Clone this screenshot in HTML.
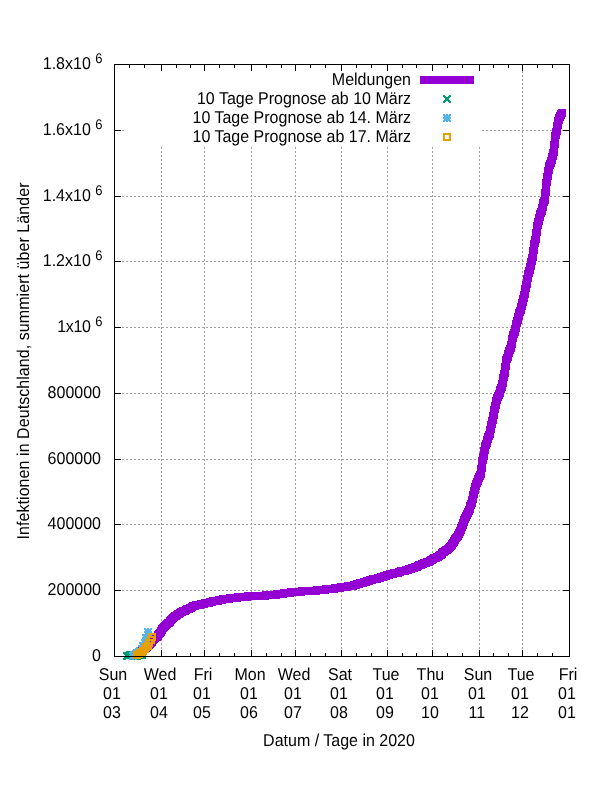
<!DOCTYPE html>
<html lang="de"><head><meta charset="utf-8"><title>Infektionen in Deutschland</title>
<style>html,body{margin:0;padding:0;background:#fff}svg{display:block}</style></head>
<body><svg width="600" height="800" viewBox="0 0 600 800" shape-rendering="crispEdges">
<rect width="600" height="800" fill="#fff"/>
<path d="M522 67h1v2h-1zM522 71h1v2h-1zM522 75h1v2h-1zM522 79h1v2h-1zM522 83h1v2h-1zM522 87h1v2h-1zM522 91h1v2h-1zM522 95h1v2h-1zM522 99h1v2h-1zM522 103h1v2h-1zM522 107h1v2h-1zM522 111h1v2h-1zM522 115h1v2h-1zM522 119h1v2h-1zM522 123h1v2h-1zM522 127h1v2h-1zM482 130h2v1h-2zM546 130h2v1h-2zM518 130h2v1h-2zM514 130h2v1h-2zM510 130h2v1h-2zM542 130h2v1h-2zM538 130h2v1h-2zM506 130h2v1h-2zM502 130h2v1h-2zM566 130h2v1h-2zM534 130h2v1h-2zM498 130h2v1h-2zM562 130h2v1h-2zM122 130h2v1h-2zM115 130h1v1h-1zM530 130h2v1h-2zM526 130h2v1h-2zM494 130h2v1h-2zM558 130h2v1h-2zM118 130h2v1h-2zM554 130h2v1h-2zM522 130h2v1h-2zM490 130h2v1h-2zM486 130h2v1h-2zM550 130h2v1h-2zM522 131h1v2h-1zM522 135h1v2h-1zM522 139h1v2h-1zM522 143h1v2h-1zM341 147h1v2h-1zM295 147h1v2h-1zM479 147h1v2h-1zM522 147h1v2h-1zM204 147h1v2h-1zM251 147h1v2h-1zM387 147h1v2h-1zM432 147h1v2h-1zM161 147h1v2h-1zM341 151h1v2h-1zM295 151h1v2h-1zM479 151h1v2h-1zM522 151h1v2h-1zM204 151h1v2h-1zM251 151h1v2h-1zM387 151h1v2h-1zM432 151h1v2h-1zM161 151h1v2h-1zM341 155h1v2h-1zM295 155h1v2h-1zM479 155h1v2h-1zM522 155h1v2h-1zM204 155h1v2h-1zM251 155h1v2h-1zM387 155h1v2h-1zM432 155h1v2h-1zM161 155h1v2h-1zM341 159h1v2h-1zM295 159h1v2h-1zM479 159h1v2h-1zM522 159h1v2h-1zM204 159h1v2h-1zM251 159h1v2h-1zM387 159h1v2h-1zM432 159h1v2h-1zM161 159h1v2h-1zM341 163h1v2h-1zM295 163h1v2h-1zM479 163h1v2h-1zM522 163h1v2h-1zM204 163h1v2h-1zM251 163h1v2h-1zM387 163h1v2h-1zM432 163h1v2h-1zM161 163h1v2h-1zM341 167h1v2h-1zM295 167h1v2h-1zM479 167h1v2h-1zM522 167h1v2h-1zM204 167h1v2h-1zM251 167h1v2h-1zM387 167h1v2h-1zM432 167h1v2h-1zM161 167h1v2h-1zM341 171h1v2h-1zM295 171h1v2h-1zM479 171h1v2h-1zM522 171h1v2h-1zM204 171h1v2h-1zM251 171h1v2h-1zM387 171h1v2h-1zM432 171h1v2h-1zM161 171h1v2h-1zM341 175h1v2h-1zM295 175h1v2h-1zM479 175h1v2h-1zM522 175h1v2h-1zM204 175h1v2h-1zM251 175h1v2h-1zM387 175h1v2h-1zM432 175h1v2h-1zM161 175h1v2h-1zM341 179h1v2h-1zM295 179h1v2h-1zM479 179h1v2h-1zM522 179h1v2h-1zM204 179h1v2h-1zM251 179h1v2h-1zM387 179h1v2h-1zM432 179h1v2h-1zM161 179h1v2h-1zM341 183h1v2h-1zM295 183h1v2h-1zM479 183h1v2h-1zM522 183h1v2h-1zM204 183h1v2h-1zM251 183h1v2h-1zM387 183h1v2h-1zM432 183h1v2h-1zM161 183h1v2h-1zM341 187h1v2h-1zM295 187h1v2h-1zM479 187h1v2h-1zM522 187h1v2h-1zM204 187h1v2h-1zM251 187h1v2h-1zM387 187h1v2h-1zM432 187h1v2h-1zM161 187h1v2h-1zM341 191h1v2h-1zM295 191h1v2h-1zM479 191h1v2h-1zM522 191h1v2h-1zM204 191h1v2h-1zM251 191h1v2h-1zM387 191h1v2h-1zM432 191h1v2h-1zM161 191h1v2h-1zM341 195h1v1h-1zM295 195h1v1h-1zM479 195h1v1h-1zM522 195h1v1h-1zM204 195h1v1h-1zM251 195h1v1h-1zM387 195h1v1h-1zM432 195h1v1h-1zM161 195h1v1h-1zM146 196h2v1h-2zM482 196h2v1h-2zM266 196h2v1h-2zM454 196h2v1h-2zM341 196h3v1h-3zM358 196h2v1h-2zM142 196h2v1h-2zM418 196h2v1h-2zM450 196h2v1h-2zM234 196h2v1h-2zM138 196h2v1h-2zM510 196h2v1h-2zM542 196h2v1h-2zM326 196h2v1h-2zM126 196h2v1h-2zM218 196h2v1h-2zM122 196h2v1h-2zM310 196h2v1h-2zM214 196h2v1h-2zM402 196h2v1h-2zM306 196h2v1h-2zM494 196h2v1h-2zM366 196h2v1h-2zM150 196h2v1h-2zM398 196h2v1h-2zM182 196h2v1h-2zM554 196h2v1h-2zM458 196h2v1h-2zM242 196h2v1h-2zM490 196h2v1h-2zM274 196h2v1h-2zM550 196h2v1h-2zM334 196h2v1h-2zM238 196h2v1h-2zM426 196h2v1h-2zM546 196h2v1h-2zM330 196h2v1h-2zM518 196h2v1h-2zM422 196h2v1h-2zM514 196h2v1h-2zM502 196h2v1h-2zM406 196h2v1h-2zM190 196h2v1h-2zM222 196h2v1h-2zM378 196h2v1h-2zM498 196h2v1h-2zM282 196h2v1h-2zM314 196h2v1h-2zM186 196h2v1h-2zM115 196h1v1h-1zM374 196h2v1h-2zM158 196h2v1h-2zM278 196h2v1h-2zM466 196h2v1h-2zM250 196h2v1h-2zM370 196h2v1h-2zM154 196h2v1h-2zM202 196h3v1h-3zM526 196h2v1h-2zM558 196h2v1h-2zM462 196h2v1h-2zM246 196h2v1h-2zM522 196h2v1h-2zM338 196h2v1h-2zM198 196h2v1h-2zM474 196h2v1h-2zM258 196h2v1h-2zM506 196h2v1h-2zM410 196h2v1h-2zM194 196h2v1h-2zM566 196h2v1h-2zM350 196h2v1h-2zM134 196h2v1h-2zM470 196h2v1h-2zM254 196h2v1h-2zM286 196h2v1h-2zM442 196h2v1h-2zM562 196h2v1h-2zM346 196h2v1h-2zM130 196h2v1h-2zM438 196h2v1h-2zM530 196h2v1h-2zM434 196h2v1h-2zM206 196h2v1h-2zM298 196h2v1h-2zM390 196h2v1h-2zM294 196h2v1h-2zM354 196h2v1h-2zM386 196h2v1h-2zM170 196h2v1h-2zM290 196h2v1h-2zM446 196h2v1h-2zM230 196h2v1h-2zM478 196h2v1h-2zM262 196h2v1h-2zM382 196h2v1h-2zM166 196h2v1h-2zM538 196h2v1h-2zM322 196h2v1h-2zM226 196h2v1h-2zM414 196h2v1h-2zM534 196h2v1h-2zM318 196h2v1h-2zM430 196h3v1h-3zM302 196h2v1h-2zM118 196h2v1h-2zM161 196h3v1h-3zM178 196h2v1h-2zM394 196h2v1h-2zM210 196h2v1h-2zM486 196h2v1h-2zM270 196h2v1h-2zM174 196h2v1h-2zM362 196h2v1h-2zM341 199h1v2h-1zM295 199h1v2h-1zM479 199h1v2h-1zM522 199h1v2h-1zM204 199h1v2h-1zM251 199h1v2h-1zM387 199h1v2h-1zM432 199h1v2h-1zM161 199h1v2h-1zM341 203h1v2h-1zM295 203h1v2h-1zM479 203h1v2h-1zM522 203h1v2h-1zM204 203h1v2h-1zM251 203h1v2h-1zM387 203h1v2h-1zM432 203h1v2h-1zM161 203h1v2h-1zM341 207h1v2h-1zM295 207h1v2h-1zM479 207h1v2h-1zM522 207h1v2h-1zM204 207h1v2h-1zM251 207h1v2h-1zM387 207h1v2h-1zM432 207h1v2h-1zM161 207h1v2h-1zM341 211h1v2h-1zM295 211h1v2h-1zM479 211h1v2h-1zM522 211h1v2h-1zM204 211h1v2h-1zM251 211h1v2h-1zM387 211h1v2h-1zM432 211h1v2h-1zM161 211h1v2h-1zM341 215h1v2h-1zM295 215h1v2h-1zM479 215h1v2h-1zM522 215h1v2h-1zM204 215h1v2h-1zM251 215h1v2h-1zM387 215h1v2h-1zM432 215h1v2h-1zM161 215h1v2h-1zM341 219h1v2h-1zM295 219h1v2h-1zM479 219h1v2h-1zM522 219h1v2h-1zM204 219h1v2h-1zM251 219h1v2h-1zM387 219h1v2h-1zM432 219h1v2h-1zM161 219h1v2h-1zM341 223h1v2h-1zM295 223h1v2h-1zM479 223h1v2h-1zM522 223h1v2h-1zM204 223h1v2h-1zM251 223h1v2h-1zM387 223h1v2h-1zM432 223h1v2h-1zM161 223h1v2h-1zM341 227h1v2h-1zM295 227h1v2h-1zM479 227h1v2h-1zM522 227h1v2h-1zM204 227h1v2h-1zM251 227h1v2h-1zM387 227h1v2h-1zM432 227h1v2h-1zM161 227h1v2h-1zM341 231h1v2h-1zM295 231h1v2h-1zM479 231h1v2h-1zM522 231h1v2h-1zM204 231h1v2h-1zM251 231h1v2h-1zM387 231h1v2h-1zM432 231h1v2h-1zM161 231h1v2h-1zM341 235h1v2h-1zM295 235h1v2h-1zM479 235h1v2h-1zM522 235h1v2h-1zM204 235h1v2h-1zM251 235h1v2h-1zM387 235h1v2h-1zM432 235h1v2h-1zM161 235h1v2h-1zM341 239h1v2h-1zM295 239h1v2h-1zM479 239h1v2h-1zM522 239h1v2h-1zM204 239h1v2h-1zM251 239h1v2h-1zM387 239h1v2h-1zM432 239h1v2h-1zM161 239h1v2h-1zM341 243h1v2h-1zM295 243h1v2h-1zM479 243h1v2h-1zM522 243h1v2h-1zM204 243h1v2h-1zM251 243h1v2h-1zM387 243h1v2h-1zM432 243h1v2h-1zM161 243h1v2h-1zM341 247h1v2h-1zM295 247h1v2h-1zM479 247h1v2h-1zM522 247h1v2h-1zM204 247h1v2h-1zM251 247h1v2h-1zM387 247h1v2h-1zM432 247h1v2h-1zM161 247h1v2h-1zM341 251h1v2h-1zM295 251h1v2h-1zM479 251h1v2h-1zM522 251h1v2h-1zM204 251h1v2h-1zM251 251h1v2h-1zM387 251h1v2h-1zM432 251h1v2h-1zM161 251h1v2h-1zM341 255h1v2h-1zM295 255h1v2h-1zM479 255h1v2h-1zM522 255h1v2h-1zM204 255h1v2h-1zM251 255h1v2h-1zM387 255h1v2h-1zM432 255h1v2h-1zM161 255h1v2h-1zM341 259h1v2h-1zM295 259h1v2h-1zM479 259h1v2h-1zM522 259h1v2h-1zM204 259h1v2h-1zM251 259h1v2h-1zM387 259h1v2h-1zM432 259h1v2h-1zM161 259h1v2h-1zM146 261h2v1h-2zM482 261h2v1h-2zM266 261h2v1h-2zM454 261h2v1h-2zM358 261h2v1h-2zM142 261h2v1h-2zM418 261h2v1h-2zM450 261h2v1h-2zM234 261h2v1h-2zM138 261h2v1h-2zM510 261h2v1h-2zM542 261h2v1h-2zM326 261h2v1h-2zM126 261h2v1h-2zM218 261h2v1h-2zM122 261h2v1h-2zM310 261h2v1h-2zM214 261h2v1h-2zM402 261h2v1h-2zM306 261h2v1h-2zM494 261h2v1h-2zM366 261h2v1h-2zM150 261h2v1h-2zM398 261h2v1h-2zM182 261h2v1h-2zM554 261h2v1h-2zM458 261h2v1h-2zM242 261h2v1h-2zM490 261h2v1h-2zM274 261h2v1h-2zM430 261h2v1h-2zM550 261h2v1h-2zM334 261h2v1h-2zM238 261h2v1h-2zM426 261h2v1h-2zM546 261h2v1h-2zM330 261h2v1h-2zM518 261h2v1h-2zM422 261h2v1h-2zM514 261h2v1h-2zM502 261h2v1h-2zM406 261h2v1h-2zM190 261h2v1h-2zM222 261h2v1h-2zM378 261h2v1h-2zM498 261h2v1h-2zM282 261h2v1h-2zM314 261h2v1h-2zM186 261h2v1h-2zM115 261h1v1h-1zM374 261h2v1h-2zM158 261h2v1h-2zM278 261h2v1h-2zM466 261h2v1h-2zM250 261h2v1h-2zM370 261h2v1h-2zM154 261h2v1h-2zM526 261h2v1h-2zM558 261h2v1h-2zM462 261h2v1h-2zM246 261h2v1h-2zM522 261h2v1h-2zM338 261h2v1h-2zM198 261h2v1h-2zM474 261h2v1h-2zM258 261h2v1h-2zM506 261h2v1h-2zM162 261h2v1h-2zM410 261h2v1h-2zM194 261h2v1h-2zM566 261h2v1h-2zM350 261h2v1h-2zM134 261h2v1h-2zM470 261h2v1h-2zM254 261h2v1h-2zM286 261h2v1h-2zM442 261h2v1h-2zM562 261h2v1h-2zM346 261h2v1h-2zM130 261h2v1h-2zM438 261h2v1h-2zM342 261h2v1h-2zM530 261h2v1h-2zM434 261h2v1h-2zM206 261h2v1h-2zM298 261h2v1h-2zM202 261h2v1h-2zM390 261h2v1h-2zM294 261h2v1h-2zM354 261h2v1h-2zM386 261h2v1h-2zM170 261h2v1h-2zM290 261h2v1h-2zM446 261h2v1h-2zM230 261h2v1h-2zM478 261h2v1h-2zM262 261h2v1h-2zM382 261h2v1h-2zM166 261h2v1h-2zM538 261h2v1h-2zM322 261h2v1h-2zM226 261h2v1h-2zM414 261h2v1h-2zM534 261h2v1h-2zM318 261h2v1h-2zM302 261h2v1h-2zM118 261h2v1h-2zM394 261h2v1h-2zM178 261h2v1h-2zM210 261h2v1h-2zM486 261h2v1h-2zM270 261h2v1h-2zM174 261h2v1h-2zM362 261h2v1h-2zM341 263h1v2h-1zM295 263h1v2h-1zM479 263h1v2h-1zM522 263h1v2h-1zM204 263h1v2h-1zM251 263h1v2h-1zM387 263h1v2h-1zM432 263h1v2h-1zM161 263h1v2h-1zM341 267h1v2h-1zM295 267h1v2h-1zM479 267h1v2h-1zM522 267h1v2h-1zM204 267h1v2h-1zM251 267h1v2h-1zM387 267h1v2h-1zM432 267h1v2h-1zM161 267h1v2h-1zM341 271h1v2h-1zM295 271h1v2h-1zM479 271h1v2h-1zM522 271h1v2h-1zM204 271h1v2h-1zM251 271h1v2h-1zM387 271h1v2h-1zM432 271h1v2h-1zM161 271h1v2h-1zM341 275h1v2h-1zM295 275h1v2h-1zM479 275h1v2h-1zM522 275h1v2h-1zM204 275h1v2h-1zM251 275h1v2h-1zM387 275h1v2h-1zM432 275h1v2h-1zM161 275h1v2h-1zM341 279h1v2h-1zM295 279h1v2h-1zM479 279h1v2h-1zM522 279h1v2h-1zM204 279h1v2h-1zM251 279h1v2h-1zM387 279h1v2h-1zM432 279h1v2h-1zM161 279h1v2h-1zM341 283h1v2h-1zM295 283h1v2h-1zM479 283h1v2h-1zM522 283h1v2h-1zM204 283h1v2h-1zM251 283h1v2h-1zM387 283h1v2h-1zM432 283h1v2h-1zM161 283h1v2h-1zM341 287h1v2h-1zM295 287h1v2h-1zM479 287h1v2h-1zM522 287h1v2h-1zM204 287h1v2h-1zM251 287h1v2h-1zM387 287h1v2h-1zM432 287h1v2h-1zM161 287h1v2h-1zM341 291h1v2h-1zM295 291h1v2h-1zM479 291h1v2h-1zM522 291h1v2h-1zM204 291h1v2h-1zM251 291h1v2h-1zM387 291h1v2h-1zM432 291h1v2h-1zM161 291h1v2h-1zM341 295h1v2h-1zM295 295h1v2h-1zM479 295h1v2h-1zM522 295h1v2h-1zM204 295h1v2h-1zM251 295h1v2h-1zM387 295h1v2h-1zM432 295h1v2h-1zM161 295h1v2h-1zM341 299h1v2h-1zM295 299h1v2h-1zM479 299h1v2h-1zM522 299h1v2h-1zM204 299h1v2h-1zM251 299h1v2h-1zM387 299h1v2h-1zM432 299h1v2h-1zM161 299h1v2h-1zM341 303h1v2h-1zM295 303h1v2h-1zM479 303h1v2h-1zM522 303h1v2h-1zM204 303h1v2h-1zM251 303h1v2h-1zM387 303h1v2h-1zM432 303h1v2h-1zM161 303h1v2h-1zM341 307h1v2h-1zM295 307h1v2h-1zM479 307h1v2h-1zM522 307h1v2h-1zM204 307h1v2h-1zM251 307h1v2h-1zM387 307h1v2h-1zM432 307h1v2h-1zM161 307h1v2h-1zM341 311h1v2h-1zM295 311h1v2h-1zM479 311h1v2h-1zM522 311h1v2h-1zM204 311h1v2h-1zM251 311h1v2h-1zM387 311h1v2h-1zM432 311h1v2h-1zM161 311h1v2h-1zM341 315h1v2h-1zM295 315h1v2h-1zM479 315h1v2h-1zM522 315h1v2h-1zM204 315h1v2h-1zM251 315h1v2h-1zM387 315h1v2h-1zM432 315h1v2h-1zM161 315h1v2h-1zM341 319h1v2h-1zM295 319h1v2h-1zM479 319h1v2h-1zM522 319h1v2h-1zM204 319h1v2h-1zM251 319h1v2h-1zM387 319h1v2h-1zM432 319h1v2h-1zM161 319h1v2h-1zM341 323h1v2h-1zM295 323h1v2h-1zM479 323h1v2h-1zM522 323h1v2h-1zM204 323h1v2h-1zM251 323h1v2h-1zM387 323h1v2h-1zM432 323h1v2h-1zM161 323h1v2h-1zM146 327h2v1h-2zM482 327h2v1h-2zM266 327h2v1h-2zM454 327h2v1h-2zM341 327h3v1h-3zM358 327h2v1h-2zM142 327h2v1h-2zM418 327h2v1h-2zM450 327h2v1h-2zM234 327h2v1h-2zM138 327h2v1h-2zM510 327h2v1h-2zM542 327h2v1h-2zM326 327h2v1h-2zM126 327h2v1h-2zM218 327h2v1h-2zM122 327h2v1h-2zM310 327h2v1h-2zM214 327h2v1h-2zM402 327h2v1h-2zM306 327h2v1h-2zM494 327h2v1h-2zM366 327h2v1h-2zM150 327h2v1h-2zM398 327h2v1h-2zM182 327h2v1h-2zM554 327h2v1h-2zM458 327h2v1h-2zM242 327h2v1h-2zM490 327h2v1h-2zM274 327h2v1h-2zM550 327h2v1h-2zM334 327h2v1h-2zM238 327h2v1h-2zM426 327h2v1h-2zM546 327h2v1h-2zM330 327h2v1h-2zM518 327h2v1h-2zM422 327h2v1h-2zM514 327h2v1h-2zM502 327h2v1h-2zM406 327h2v1h-2zM190 327h2v1h-2zM222 327h2v1h-2zM378 327h2v1h-2zM498 327h2v1h-2zM282 327h2v1h-2zM314 327h2v1h-2zM186 327h2v1h-2zM115 327h1v1h-1zM374 327h2v1h-2zM158 327h2v1h-2zM278 327h2v1h-2zM466 327h2v1h-2zM250 327h2v1h-2zM370 327h2v1h-2zM154 327h2v1h-2zM202 327h3v1h-3zM526 327h2v1h-2zM558 327h2v1h-2zM462 327h2v1h-2zM246 327h2v1h-2zM522 327h2v1h-2zM338 327h2v1h-2zM198 327h2v1h-2zM474 327h2v1h-2zM258 327h2v1h-2zM506 327h2v1h-2zM410 327h2v1h-2zM194 327h2v1h-2zM566 327h2v1h-2zM350 327h2v1h-2zM134 327h2v1h-2zM470 327h2v1h-2zM254 327h2v1h-2zM286 327h2v1h-2zM442 327h2v1h-2zM562 327h2v1h-2zM346 327h2v1h-2zM130 327h2v1h-2zM438 327h2v1h-2zM530 327h2v1h-2zM434 327h2v1h-2zM206 327h2v1h-2zM298 327h2v1h-2zM390 327h2v1h-2zM294 327h2v1h-2zM354 327h2v1h-2zM386 327h2v1h-2zM170 327h2v1h-2zM290 327h2v1h-2zM446 327h2v1h-2zM230 327h2v1h-2zM478 327h2v1h-2zM262 327h2v1h-2zM382 327h2v1h-2zM166 327h2v1h-2zM538 327h2v1h-2zM322 327h2v1h-2zM226 327h2v1h-2zM414 327h2v1h-2zM534 327h2v1h-2zM318 327h2v1h-2zM430 327h3v1h-3zM302 327h2v1h-2zM118 327h2v1h-2zM161 327h3v1h-3zM178 327h2v1h-2zM394 327h2v1h-2zM210 327h2v1h-2zM486 327h2v1h-2zM270 327h2v1h-2zM174 327h2v1h-2zM362 327h2v1h-2zM341 328h1v1h-1zM295 328h1v1h-1zM479 328h1v1h-1zM522 328h1v1h-1zM204 328h1v1h-1zM251 328h1v1h-1zM387 328h1v1h-1zM432 328h1v1h-1zM161 328h1v1h-1zM341 331h1v2h-1zM295 331h1v2h-1zM479 331h1v2h-1zM522 331h1v2h-1zM204 331h1v2h-1zM251 331h1v2h-1zM387 331h1v2h-1zM432 331h1v2h-1zM161 331h1v2h-1zM341 335h1v2h-1zM295 335h1v2h-1zM479 335h1v2h-1zM522 335h1v2h-1zM204 335h1v2h-1zM251 335h1v2h-1zM387 335h1v2h-1zM432 335h1v2h-1zM161 335h1v2h-1zM341 339h1v2h-1zM295 339h1v2h-1zM479 339h1v2h-1zM522 339h1v2h-1zM204 339h1v2h-1zM251 339h1v2h-1zM387 339h1v2h-1zM432 339h1v2h-1zM161 339h1v2h-1zM341 343h1v2h-1zM295 343h1v2h-1zM479 343h1v2h-1zM522 343h1v2h-1zM204 343h1v2h-1zM251 343h1v2h-1zM387 343h1v2h-1zM432 343h1v2h-1zM161 343h1v2h-1zM341 347h1v2h-1zM295 347h1v2h-1zM479 347h1v2h-1zM522 347h1v2h-1zM204 347h1v2h-1zM251 347h1v2h-1zM387 347h1v2h-1zM432 347h1v2h-1zM161 347h1v2h-1zM341 351h1v2h-1zM295 351h1v2h-1zM479 351h1v2h-1zM522 351h1v2h-1zM204 351h1v2h-1zM251 351h1v2h-1zM387 351h1v2h-1zM432 351h1v2h-1zM161 351h1v2h-1zM341 355h1v2h-1zM295 355h1v2h-1zM479 355h1v2h-1zM522 355h1v2h-1zM204 355h1v2h-1zM251 355h1v2h-1zM387 355h1v2h-1zM432 355h1v2h-1zM161 355h1v2h-1zM341 359h1v2h-1zM295 359h1v2h-1zM479 359h1v2h-1zM522 359h1v2h-1zM204 359h1v2h-1zM251 359h1v2h-1zM387 359h1v2h-1zM432 359h1v2h-1zM161 359h1v2h-1zM341 363h1v2h-1zM295 363h1v2h-1zM479 363h1v2h-1zM522 363h1v2h-1zM204 363h1v2h-1zM251 363h1v2h-1zM387 363h1v2h-1zM432 363h1v2h-1zM161 363h1v2h-1zM341 367h1v2h-1zM295 367h1v2h-1zM479 367h1v2h-1zM522 367h1v2h-1zM204 367h1v2h-1zM251 367h1v2h-1zM387 367h1v2h-1zM432 367h1v2h-1zM161 367h1v2h-1zM341 371h1v2h-1zM295 371h1v2h-1zM479 371h1v2h-1zM522 371h1v2h-1zM204 371h1v2h-1zM251 371h1v2h-1zM387 371h1v2h-1zM432 371h1v2h-1zM161 371h1v2h-1zM341 375h1v2h-1zM295 375h1v2h-1zM479 375h1v2h-1zM522 375h1v2h-1zM204 375h1v2h-1zM251 375h1v2h-1zM387 375h1v2h-1zM432 375h1v2h-1zM161 375h1v2h-1zM341 379h1v2h-1zM295 379h1v2h-1zM479 379h1v2h-1zM522 379h1v2h-1zM204 379h1v2h-1zM251 379h1v2h-1zM387 379h1v2h-1zM432 379h1v2h-1zM161 379h1v2h-1zM341 383h1v2h-1zM295 383h1v2h-1zM479 383h1v2h-1zM522 383h1v2h-1zM204 383h1v2h-1zM251 383h1v2h-1zM387 383h1v2h-1zM432 383h1v2h-1zM161 383h1v2h-1zM341 387h1v2h-1zM295 387h1v2h-1zM479 387h1v2h-1zM522 387h1v2h-1zM204 387h1v2h-1zM251 387h1v2h-1zM387 387h1v2h-1zM432 387h1v2h-1zM161 387h1v2h-1zM341 391h1v2h-1zM295 391h1v2h-1zM479 391h1v2h-1zM522 391h1v2h-1zM204 391h1v2h-1zM251 391h1v2h-1zM387 391h1v2h-1zM432 391h1v2h-1zM161 391h1v2h-1zM146 393h2v1h-2zM482 393h2v1h-2zM266 393h2v1h-2zM454 393h2v1h-2zM358 393h2v1h-2zM142 393h2v1h-2zM418 393h2v1h-2zM450 393h2v1h-2zM234 393h2v1h-2zM138 393h2v1h-2zM510 393h2v1h-2zM542 393h2v1h-2zM326 393h2v1h-2zM126 393h2v1h-2zM218 393h2v1h-2zM122 393h2v1h-2zM310 393h2v1h-2zM214 393h2v1h-2zM402 393h2v1h-2zM306 393h2v1h-2zM494 393h2v1h-2zM366 393h2v1h-2zM150 393h2v1h-2zM398 393h2v1h-2zM182 393h2v1h-2zM554 393h2v1h-2zM458 393h2v1h-2zM242 393h2v1h-2zM490 393h2v1h-2zM274 393h2v1h-2zM430 393h2v1h-2zM550 393h2v1h-2zM334 393h2v1h-2zM238 393h2v1h-2zM426 393h2v1h-2zM546 393h2v1h-2zM330 393h2v1h-2zM518 393h2v1h-2zM422 393h2v1h-2zM514 393h2v1h-2zM502 393h2v1h-2zM406 393h2v1h-2zM190 393h2v1h-2zM222 393h2v1h-2zM378 393h2v1h-2zM498 393h2v1h-2zM282 393h2v1h-2zM314 393h2v1h-2zM186 393h2v1h-2zM115 393h1v1h-1zM374 393h2v1h-2zM158 393h2v1h-2zM278 393h2v1h-2zM466 393h2v1h-2zM250 393h2v1h-2zM370 393h2v1h-2zM154 393h2v1h-2zM526 393h2v1h-2zM558 393h2v1h-2zM462 393h2v1h-2zM246 393h2v1h-2zM522 393h2v1h-2zM338 393h2v1h-2zM198 393h2v1h-2zM474 393h2v1h-2zM258 393h2v1h-2zM506 393h2v1h-2zM162 393h2v1h-2zM410 393h2v1h-2zM194 393h2v1h-2zM566 393h2v1h-2zM350 393h2v1h-2zM134 393h2v1h-2zM470 393h2v1h-2zM254 393h2v1h-2zM286 393h2v1h-2zM442 393h2v1h-2zM562 393h2v1h-2zM346 393h2v1h-2zM130 393h2v1h-2zM438 393h2v1h-2zM342 393h2v1h-2zM530 393h2v1h-2zM434 393h2v1h-2zM206 393h2v1h-2zM298 393h2v1h-2zM202 393h2v1h-2zM390 393h2v1h-2zM294 393h2v1h-2zM354 393h2v1h-2zM386 393h2v1h-2zM170 393h2v1h-2zM290 393h2v1h-2zM446 393h2v1h-2zM230 393h2v1h-2zM478 393h2v1h-2zM262 393h2v1h-2zM382 393h2v1h-2zM166 393h2v1h-2zM538 393h2v1h-2zM322 393h2v1h-2zM226 393h2v1h-2zM414 393h2v1h-2zM534 393h2v1h-2zM318 393h2v1h-2zM302 393h2v1h-2zM118 393h2v1h-2zM394 393h2v1h-2zM178 393h2v1h-2zM210 393h2v1h-2zM486 393h2v1h-2zM270 393h2v1h-2zM174 393h2v1h-2zM362 393h2v1h-2zM341 395h1v2h-1zM295 395h1v2h-1zM479 395h1v2h-1zM522 395h1v2h-1zM204 395h1v2h-1zM251 395h1v2h-1zM387 395h1v2h-1zM432 395h1v2h-1zM161 395h1v2h-1zM341 399h1v2h-1zM295 399h1v2h-1zM479 399h1v2h-1zM522 399h1v2h-1zM204 399h1v2h-1zM251 399h1v2h-1zM387 399h1v2h-1zM432 399h1v2h-1zM161 399h1v2h-1zM341 403h1v2h-1zM295 403h1v2h-1zM479 403h1v2h-1zM522 403h1v2h-1zM204 403h1v2h-1zM251 403h1v2h-1zM387 403h1v2h-1zM432 403h1v2h-1zM161 403h1v2h-1zM341 407h1v2h-1zM295 407h1v2h-1zM479 407h1v2h-1zM522 407h1v2h-1zM204 407h1v2h-1zM251 407h1v2h-1zM387 407h1v2h-1zM432 407h1v2h-1zM161 407h1v2h-1zM341 411h1v2h-1zM295 411h1v2h-1zM479 411h1v2h-1zM522 411h1v2h-1zM204 411h1v2h-1zM251 411h1v2h-1zM387 411h1v2h-1zM432 411h1v2h-1zM161 411h1v2h-1zM341 415h1v2h-1zM295 415h1v2h-1zM479 415h1v2h-1zM522 415h1v2h-1zM204 415h1v2h-1zM251 415h1v2h-1zM387 415h1v2h-1zM432 415h1v2h-1zM161 415h1v2h-1zM341 419h1v2h-1zM295 419h1v2h-1zM479 419h1v2h-1zM522 419h1v2h-1zM204 419h1v2h-1zM251 419h1v2h-1zM387 419h1v2h-1zM432 419h1v2h-1zM161 419h1v2h-1zM341 423h1v2h-1zM295 423h1v2h-1zM479 423h1v2h-1zM522 423h1v2h-1zM204 423h1v2h-1zM251 423h1v2h-1zM387 423h1v2h-1zM432 423h1v2h-1zM161 423h1v2h-1zM341 427h1v2h-1zM295 427h1v2h-1zM479 427h1v2h-1zM522 427h1v2h-1zM204 427h1v2h-1zM251 427h1v2h-1zM387 427h1v2h-1zM432 427h1v2h-1zM161 427h1v2h-1zM341 431h1v2h-1zM295 431h1v2h-1zM479 431h1v2h-1zM522 431h1v2h-1zM204 431h1v2h-1zM251 431h1v2h-1zM387 431h1v2h-1zM432 431h1v2h-1zM161 431h1v2h-1zM341 435h1v2h-1zM295 435h1v2h-1zM479 435h1v2h-1zM522 435h1v2h-1zM204 435h1v2h-1zM251 435h1v2h-1zM387 435h1v2h-1zM432 435h1v2h-1zM161 435h1v2h-1zM341 439h1v2h-1zM295 439h1v2h-1zM479 439h1v2h-1zM522 439h1v2h-1zM204 439h1v2h-1zM251 439h1v2h-1zM387 439h1v2h-1zM432 439h1v2h-1zM161 439h1v2h-1zM341 443h1v2h-1zM295 443h1v2h-1zM479 443h1v2h-1zM522 443h1v2h-1zM204 443h1v2h-1zM251 443h1v2h-1zM387 443h1v2h-1zM432 443h1v2h-1zM161 443h1v2h-1zM341 447h1v2h-1zM295 447h1v2h-1zM479 447h1v2h-1zM522 447h1v2h-1zM204 447h1v2h-1zM251 447h1v2h-1zM387 447h1v2h-1zM432 447h1v2h-1zM161 447h1v2h-1zM341 451h1v2h-1zM295 451h1v2h-1zM479 451h1v2h-1zM522 451h1v2h-1zM204 451h1v2h-1zM251 451h1v2h-1zM387 451h1v2h-1zM432 451h1v2h-1zM161 451h1v2h-1zM341 455h1v2h-1zM295 455h1v2h-1zM479 455h1v2h-1zM522 455h1v2h-1zM204 455h1v2h-1zM251 455h1v2h-1zM387 455h1v2h-1zM432 455h1v2h-1zM161 455h1v2h-1zM146 459h2v1h-2zM482 459h2v1h-2zM266 459h2v1h-2zM454 459h2v1h-2zM341 459h3v1h-3zM358 459h2v1h-2zM142 459h2v1h-2zM418 459h2v1h-2zM450 459h2v1h-2zM234 459h2v1h-2zM138 459h2v1h-2zM510 459h2v1h-2zM542 459h2v1h-2zM326 459h2v1h-2zM126 459h2v1h-2zM218 459h2v1h-2zM122 459h2v1h-2zM310 459h2v1h-2zM214 459h2v1h-2zM402 459h2v1h-2zM306 459h2v1h-2zM494 459h2v1h-2zM366 459h2v1h-2zM150 459h2v1h-2zM398 459h2v1h-2zM182 459h2v1h-2zM554 459h2v1h-2zM458 459h2v1h-2zM242 459h2v1h-2zM490 459h2v1h-2zM274 459h2v1h-2zM550 459h2v1h-2zM334 459h2v1h-2zM238 459h2v1h-2zM426 459h2v1h-2zM546 459h2v1h-2zM330 459h2v1h-2zM518 459h2v1h-2zM422 459h2v1h-2zM514 459h2v1h-2zM502 459h2v1h-2zM406 459h2v1h-2zM190 459h2v1h-2zM222 459h2v1h-2zM378 459h2v1h-2zM498 459h2v1h-2zM282 459h2v1h-2zM314 459h2v1h-2zM186 459h2v1h-2zM115 459h1v1h-1zM374 459h2v1h-2zM158 459h2v1h-2zM278 459h2v1h-2zM466 459h2v1h-2zM250 459h2v1h-2zM370 459h2v1h-2zM154 459h2v1h-2zM202 459h3v1h-3zM526 459h2v1h-2zM558 459h2v1h-2zM462 459h2v1h-2zM246 459h2v1h-2zM522 459h2v1h-2zM338 459h2v1h-2zM198 459h2v1h-2zM474 459h2v1h-2zM258 459h2v1h-2zM506 459h2v1h-2zM410 459h2v1h-2zM194 459h2v1h-2zM566 459h2v1h-2zM350 459h2v1h-2zM134 459h2v1h-2zM470 459h2v1h-2zM254 459h2v1h-2zM286 459h2v1h-2zM442 459h2v1h-2zM562 459h2v1h-2zM346 459h2v1h-2zM130 459h2v1h-2zM438 459h2v1h-2zM530 459h2v1h-2zM434 459h2v1h-2zM206 459h2v1h-2zM298 459h2v1h-2zM390 459h2v1h-2zM294 459h2v1h-2zM354 459h2v1h-2zM386 459h2v1h-2zM170 459h2v1h-2zM290 459h2v1h-2zM446 459h2v1h-2zM230 459h2v1h-2zM478 459h2v1h-2zM262 459h2v1h-2zM382 459h2v1h-2zM166 459h2v1h-2zM538 459h2v1h-2zM322 459h2v1h-2zM226 459h2v1h-2zM414 459h2v1h-2zM534 459h2v1h-2zM318 459h2v1h-2zM430 459h3v1h-3zM302 459h2v1h-2zM118 459h2v1h-2zM161 459h3v1h-3zM178 459h2v1h-2zM394 459h2v1h-2zM210 459h2v1h-2zM486 459h2v1h-2zM270 459h2v1h-2zM174 459h2v1h-2zM362 459h2v1h-2zM341 460h1v1h-1zM295 460h1v1h-1zM479 460h1v1h-1zM522 460h1v1h-1zM204 460h1v1h-1zM251 460h1v1h-1zM387 460h1v1h-1zM432 460h1v1h-1zM161 460h1v1h-1zM341 463h1v2h-1zM295 463h1v2h-1zM479 463h1v2h-1zM522 463h1v2h-1zM204 463h1v2h-1zM251 463h1v2h-1zM387 463h1v2h-1zM432 463h1v2h-1zM161 463h1v2h-1zM341 467h1v2h-1zM295 467h1v2h-1zM479 467h1v2h-1zM522 467h1v2h-1zM204 467h1v2h-1zM251 467h1v2h-1zM387 467h1v2h-1zM432 467h1v2h-1zM161 467h1v2h-1zM341 471h1v2h-1zM295 471h1v2h-1zM479 471h1v2h-1zM522 471h1v2h-1zM204 471h1v2h-1zM251 471h1v2h-1zM387 471h1v2h-1zM432 471h1v2h-1zM161 471h1v2h-1zM341 475h1v2h-1zM295 475h1v2h-1zM479 475h1v2h-1zM522 475h1v2h-1zM204 475h1v2h-1zM251 475h1v2h-1zM387 475h1v2h-1zM432 475h1v2h-1zM161 475h1v2h-1zM341 479h1v2h-1zM295 479h1v2h-1zM479 479h1v2h-1zM522 479h1v2h-1zM204 479h1v2h-1zM251 479h1v2h-1zM387 479h1v2h-1zM432 479h1v2h-1zM161 479h1v2h-1zM341 483h1v2h-1zM295 483h1v2h-1zM479 483h1v2h-1zM522 483h1v2h-1zM204 483h1v2h-1zM251 483h1v2h-1zM387 483h1v2h-1zM432 483h1v2h-1zM161 483h1v2h-1zM341 487h1v2h-1zM295 487h1v2h-1zM479 487h1v2h-1zM522 487h1v2h-1zM204 487h1v2h-1zM251 487h1v2h-1zM387 487h1v2h-1zM432 487h1v2h-1zM161 487h1v2h-1zM341 491h1v2h-1zM295 491h1v2h-1zM479 491h1v2h-1zM522 491h1v2h-1zM204 491h1v2h-1zM251 491h1v2h-1zM387 491h1v2h-1zM432 491h1v2h-1zM161 491h1v2h-1zM341 495h1v2h-1zM295 495h1v2h-1zM479 495h1v2h-1zM522 495h1v2h-1zM204 495h1v2h-1zM251 495h1v2h-1zM387 495h1v2h-1zM432 495h1v2h-1zM161 495h1v2h-1zM341 499h1v2h-1zM295 499h1v2h-1zM479 499h1v2h-1zM522 499h1v2h-1zM204 499h1v2h-1zM251 499h1v2h-1zM387 499h1v2h-1zM432 499h1v2h-1zM161 499h1v2h-1zM341 503h1v2h-1zM295 503h1v2h-1zM479 503h1v2h-1zM522 503h1v2h-1zM204 503h1v2h-1zM251 503h1v2h-1zM387 503h1v2h-1zM432 503h1v2h-1zM161 503h1v2h-1zM341 507h1v2h-1zM295 507h1v2h-1zM479 507h1v2h-1zM522 507h1v2h-1zM204 507h1v2h-1zM251 507h1v2h-1zM387 507h1v2h-1zM432 507h1v2h-1zM161 507h1v2h-1zM341 511h1v2h-1zM295 511h1v2h-1zM479 511h1v2h-1zM522 511h1v2h-1zM204 511h1v2h-1zM251 511h1v2h-1zM387 511h1v2h-1zM432 511h1v2h-1zM161 511h1v2h-1zM341 515h1v2h-1zM295 515h1v2h-1zM479 515h1v2h-1zM522 515h1v2h-1zM204 515h1v2h-1zM251 515h1v2h-1zM387 515h1v2h-1zM432 515h1v2h-1zM161 515h1v2h-1zM341 519h1v2h-1zM295 519h1v2h-1zM479 519h1v2h-1zM522 519h1v2h-1zM204 519h1v2h-1zM251 519h1v2h-1zM387 519h1v2h-1zM432 519h1v2h-1zM161 519h1v2h-1zM341 523h1v1h-1zM295 523h1v1h-1zM479 523h1v1h-1zM522 523h1v1h-1zM204 523h1v1h-1zM251 523h1v1h-1zM387 523h1v1h-1zM432 523h1v1h-1zM161 523h1v1h-1zM146 524h2v1h-2zM482 524h2v1h-2zM266 524h2v1h-2zM454 524h2v1h-2zM341 524h3v1h-3zM358 524h2v1h-2zM142 524h2v1h-2zM418 524h2v1h-2zM450 524h2v1h-2zM234 524h2v1h-2zM138 524h2v1h-2zM510 524h2v1h-2zM542 524h2v1h-2zM326 524h2v1h-2zM126 524h2v1h-2zM218 524h2v1h-2zM122 524h2v1h-2zM310 524h2v1h-2zM214 524h2v1h-2zM402 524h2v1h-2zM306 524h2v1h-2zM494 524h2v1h-2zM366 524h2v1h-2zM150 524h2v1h-2zM398 524h2v1h-2zM182 524h2v1h-2zM554 524h2v1h-2zM458 524h2v1h-2zM242 524h2v1h-2zM490 524h2v1h-2zM274 524h2v1h-2zM550 524h2v1h-2zM334 524h2v1h-2zM238 524h2v1h-2zM426 524h2v1h-2zM546 524h2v1h-2zM330 524h2v1h-2zM518 524h2v1h-2zM422 524h2v1h-2zM514 524h2v1h-2zM502 524h2v1h-2zM406 524h2v1h-2zM190 524h2v1h-2zM222 524h2v1h-2zM378 524h2v1h-2zM498 524h2v1h-2zM282 524h2v1h-2zM314 524h2v1h-2zM186 524h2v1h-2zM115 524h1v1h-1zM374 524h2v1h-2zM158 524h2v1h-2zM278 524h2v1h-2zM466 524h2v1h-2zM250 524h2v1h-2zM370 524h2v1h-2zM154 524h2v1h-2zM202 524h3v1h-3zM526 524h2v1h-2zM558 524h2v1h-2zM462 524h2v1h-2zM246 524h2v1h-2zM522 524h2v1h-2zM338 524h2v1h-2zM198 524h2v1h-2zM474 524h2v1h-2zM258 524h2v1h-2zM506 524h2v1h-2zM410 524h2v1h-2zM194 524h2v1h-2zM566 524h2v1h-2zM350 524h2v1h-2zM134 524h2v1h-2zM470 524h2v1h-2zM254 524h2v1h-2zM286 524h2v1h-2zM442 524h2v1h-2zM562 524h2v1h-2zM346 524h2v1h-2zM130 524h2v1h-2zM438 524h2v1h-2zM530 524h2v1h-2zM434 524h2v1h-2zM206 524h2v1h-2zM298 524h2v1h-2zM390 524h2v1h-2zM294 524h2v1h-2zM354 524h2v1h-2zM386 524h2v1h-2zM170 524h2v1h-2zM290 524h2v1h-2zM446 524h2v1h-2zM230 524h2v1h-2zM478 524h2v1h-2zM262 524h2v1h-2zM382 524h2v1h-2zM166 524h2v1h-2zM538 524h2v1h-2zM322 524h2v1h-2zM226 524h2v1h-2zM414 524h2v1h-2zM534 524h2v1h-2zM318 524h2v1h-2zM430 524h3v1h-3zM302 524h2v1h-2zM118 524h2v1h-2zM161 524h3v1h-3zM178 524h2v1h-2zM394 524h2v1h-2zM210 524h2v1h-2zM486 524h2v1h-2zM270 524h2v1h-2zM174 524h2v1h-2zM362 524h2v1h-2zM341 527h1v2h-1zM295 527h1v2h-1zM479 527h1v2h-1zM522 527h1v2h-1zM204 527h1v2h-1zM251 527h1v2h-1zM387 527h1v2h-1zM432 527h1v2h-1zM161 527h1v2h-1zM341 531h1v2h-1zM295 531h1v2h-1zM479 531h1v2h-1zM522 531h1v2h-1zM204 531h1v2h-1zM251 531h1v2h-1zM387 531h1v2h-1zM432 531h1v2h-1zM161 531h1v2h-1zM341 535h1v2h-1zM295 535h1v2h-1zM479 535h1v2h-1zM522 535h1v2h-1zM204 535h1v2h-1zM251 535h1v2h-1zM387 535h1v2h-1zM432 535h1v2h-1zM161 535h1v2h-1zM341 539h1v2h-1zM295 539h1v2h-1zM479 539h1v2h-1zM522 539h1v2h-1zM204 539h1v2h-1zM251 539h1v2h-1zM387 539h1v2h-1zM432 539h1v2h-1zM161 539h1v2h-1zM341 543h1v2h-1zM295 543h1v2h-1zM479 543h1v2h-1zM522 543h1v2h-1zM204 543h1v2h-1zM251 543h1v2h-1zM387 543h1v2h-1zM432 543h1v2h-1zM161 543h1v2h-1zM341 547h1v2h-1zM295 547h1v2h-1zM479 547h1v2h-1zM522 547h1v2h-1zM204 547h1v2h-1zM251 547h1v2h-1zM387 547h1v2h-1zM432 547h1v2h-1zM161 547h1v2h-1zM341 551h1v2h-1zM295 551h1v2h-1zM479 551h1v2h-1zM522 551h1v2h-1zM204 551h1v2h-1zM251 551h1v2h-1zM387 551h1v2h-1zM432 551h1v2h-1zM161 551h1v2h-1zM341 555h1v2h-1zM295 555h1v2h-1zM479 555h1v2h-1zM522 555h1v2h-1zM204 555h1v2h-1zM251 555h1v2h-1zM387 555h1v2h-1zM432 555h1v2h-1zM161 555h1v2h-1zM341 559h1v2h-1zM295 559h1v2h-1zM479 559h1v2h-1zM522 559h1v2h-1zM204 559h1v2h-1zM251 559h1v2h-1zM387 559h1v2h-1zM432 559h1v2h-1zM161 559h1v2h-1zM341 563h1v2h-1zM295 563h1v2h-1zM479 563h1v2h-1zM522 563h1v2h-1zM204 563h1v2h-1zM251 563h1v2h-1zM387 563h1v2h-1zM432 563h1v2h-1zM161 563h1v2h-1zM341 567h1v2h-1zM295 567h1v2h-1zM479 567h1v2h-1zM522 567h1v2h-1zM204 567h1v2h-1zM251 567h1v2h-1zM387 567h1v2h-1zM432 567h1v2h-1zM161 567h1v2h-1zM341 571h1v2h-1zM295 571h1v2h-1zM479 571h1v2h-1zM522 571h1v2h-1zM204 571h1v2h-1zM251 571h1v2h-1zM387 571h1v2h-1zM432 571h1v2h-1zM161 571h1v2h-1zM341 575h1v2h-1zM295 575h1v2h-1zM479 575h1v2h-1zM522 575h1v2h-1zM204 575h1v2h-1zM251 575h1v2h-1zM387 575h1v2h-1zM432 575h1v2h-1zM161 575h1v2h-1zM341 579h1v2h-1zM295 579h1v2h-1zM479 579h1v2h-1zM522 579h1v2h-1zM204 579h1v2h-1zM251 579h1v2h-1zM387 579h1v2h-1zM432 579h1v2h-1zM161 579h1v2h-1zM341 583h1v2h-1zM295 583h1v2h-1zM479 583h1v2h-1zM522 583h1v2h-1zM204 583h1v2h-1zM251 583h1v2h-1zM387 583h1v2h-1zM432 583h1v2h-1zM161 583h1v2h-1zM341 587h1v2h-1zM295 587h1v2h-1zM479 587h1v2h-1zM522 587h1v2h-1zM204 587h1v2h-1zM251 587h1v2h-1zM387 587h1v2h-1zM432 587h1v2h-1zM161 587h1v2h-1zM146 590h2v1h-2zM482 590h2v1h-2zM266 590h2v1h-2zM454 590h2v1h-2zM358 590h2v1h-2zM142 590h2v1h-2zM418 590h2v1h-2zM450 590h2v1h-2zM234 590h2v1h-2zM138 590h2v1h-2zM510 590h2v1h-2zM542 590h2v1h-2zM326 590h2v1h-2zM126 590h2v1h-2zM218 590h2v1h-2zM122 590h2v1h-2zM310 590h2v1h-2zM214 590h2v1h-2zM402 590h2v1h-2zM306 590h2v1h-2zM494 590h2v1h-2zM366 590h2v1h-2zM150 590h2v1h-2zM398 590h2v1h-2zM182 590h2v1h-2zM554 590h2v1h-2zM458 590h2v1h-2zM242 590h2v1h-2zM490 590h2v1h-2zM274 590h2v1h-2zM430 590h2v1h-2zM550 590h2v1h-2zM334 590h2v1h-2zM238 590h2v1h-2zM426 590h2v1h-2zM546 590h2v1h-2zM330 590h2v1h-2zM518 590h2v1h-2zM422 590h2v1h-2zM514 590h2v1h-2zM502 590h2v1h-2zM406 590h2v1h-2zM190 590h2v1h-2zM222 590h2v1h-2zM378 590h2v1h-2zM498 590h2v1h-2zM282 590h2v1h-2zM314 590h2v1h-2zM186 590h2v1h-2zM115 590h1v1h-1zM374 590h2v1h-2zM158 590h2v1h-2zM278 590h2v1h-2zM466 590h2v1h-2zM250 590h2v1h-2zM370 590h2v1h-2zM154 590h2v1h-2zM526 590h2v1h-2zM558 590h2v1h-2zM462 590h2v1h-2zM246 590h2v1h-2zM522 590h2v1h-2zM338 590h2v1h-2zM198 590h2v1h-2zM474 590h2v1h-2zM258 590h2v1h-2zM506 590h2v1h-2zM162 590h2v1h-2zM410 590h2v1h-2zM194 590h2v1h-2zM566 590h2v1h-2zM350 590h2v1h-2zM134 590h2v1h-2zM470 590h2v1h-2zM254 590h2v1h-2zM286 590h2v1h-2zM442 590h2v1h-2zM562 590h2v1h-2zM346 590h2v1h-2zM130 590h2v1h-2zM438 590h2v1h-2zM342 590h2v1h-2zM530 590h2v1h-2zM434 590h2v1h-2zM206 590h2v1h-2zM298 590h2v1h-2zM202 590h2v1h-2zM390 590h2v1h-2zM294 590h2v1h-2zM354 590h2v1h-2zM386 590h2v1h-2zM170 590h2v1h-2zM290 590h2v1h-2zM446 590h2v1h-2zM230 590h2v1h-2zM478 590h2v1h-2zM262 590h2v1h-2zM382 590h2v1h-2zM166 590h2v1h-2zM538 590h2v1h-2zM322 590h2v1h-2zM226 590h2v1h-2zM414 590h2v1h-2zM534 590h2v1h-2zM318 590h2v1h-2zM302 590h2v1h-2zM118 590h2v1h-2zM394 590h2v1h-2zM178 590h2v1h-2zM210 590h2v1h-2zM486 590h2v1h-2zM270 590h2v1h-2zM174 590h2v1h-2zM362 590h2v1h-2zM341 591h1v2h-1zM295 591h1v2h-1zM479 591h1v2h-1zM522 591h1v2h-1zM204 591h1v2h-1zM251 591h1v2h-1zM387 591h1v2h-1zM432 591h1v2h-1zM161 591h1v2h-1zM341 595h1v2h-1zM295 595h1v2h-1zM479 595h1v2h-1zM522 595h1v2h-1zM204 595h1v2h-1zM251 595h1v2h-1zM387 595h1v2h-1zM432 595h1v2h-1zM161 595h1v2h-1zM341 599h1v2h-1zM295 599h1v2h-1zM479 599h1v2h-1zM522 599h1v2h-1zM204 599h1v2h-1zM251 599h1v2h-1zM387 599h1v2h-1zM432 599h1v2h-1zM161 599h1v2h-1zM341 603h1v2h-1zM295 603h1v2h-1zM479 603h1v2h-1zM522 603h1v2h-1zM204 603h1v2h-1zM251 603h1v2h-1zM387 603h1v2h-1zM432 603h1v2h-1zM161 603h1v2h-1zM341 607h1v2h-1zM295 607h1v2h-1zM479 607h1v2h-1zM522 607h1v2h-1zM204 607h1v2h-1zM251 607h1v2h-1zM387 607h1v2h-1zM432 607h1v2h-1zM161 607h1v2h-1zM341 611h1v2h-1zM295 611h1v2h-1zM479 611h1v2h-1zM522 611h1v2h-1zM204 611h1v2h-1zM251 611h1v2h-1zM387 611h1v2h-1zM432 611h1v2h-1zM161 611h1v2h-1zM341 615h1v2h-1zM295 615h1v2h-1zM479 615h1v2h-1zM522 615h1v2h-1zM204 615h1v2h-1zM251 615h1v2h-1zM387 615h1v2h-1zM432 615h1v2h-1zM161 615h1v2h-1zM341 619h1v2h-1zM295 619h1v2h-1zM479 619h1v2h-1zM522 619h1v2h-1zM204 619h1v2h-1zM251 619h1v2h-1zM387 619h1v2h-1zM432 619h1v2h-1zM161 619h1v2h-1zM341 623h1v2h-1zM295 623h1v2h-1zM479 623h1v2h-1zM522 623h1v2h-1zM204 623h1v2h-1zM251 623h1v2h-1zM387 623h1v2h-1zM432 623h1v2h-1zM161 623h1v2h-1zM341 627h1v2h-1zM295 627h1v2h-1zM479 627h1v2h-1zM522 627h1v2h-1zM204 627h1v2h-1zM251 627h1v2h-1zM387 627h1v2h-1zM432 627h1v2h-1zM161 627h1v2h-1zM341 631h1v2h-1zM295 631h1v2h-1zM479 631h1v2h-1zM522 631h1v2h-1zM204 631h1v2h-1zM251 631h1v2h-1zM387 631h1v2h-1zM432 631h1v2h-1zM161 631h1v2h-1zM341 635h1v2h-1zM295 635h1v2h-1zM479 635h1v2h-1zM522 635h1v2h-1zM204 635h1v2h-1zM251 635h1v2h-1zM387 635h1v2h-1zM432 635h1v2h-1zM161 635h1v2h-1zM341 639h1v2h-1zM295 639h1v2h-1zM479 639h1v2h-1zM522 639h1v2h-1zM204 639h1v2h-1zM251 639h1v2h-1zM387 639h1v2h-1zM432 639h1v2h-1zM161 639h1v2h-1zM341 643h1v2h-1zM295 643h1v2h-1zM479 643h1v2h-1zM522 643h1v2h-1zM204 643h1v2h-1zM251 643h1v2h-1zM387 643h1v2h-1zM432 643h1v2h-1zM161 643h1v2h-1zM341 647h1v2h-1zM295 647h1v2h-1zM479 647h1v2h-1zM522 647h1v2h-1zM204 647h1v2h-1zM251 647h1v2h-1zM387 647h1v2h-1zM432 647h1v2h-1zM161 647h1v2h-1zM341 651h1v2h-1zM295 651h1v2h-1zM479 651h1v2h-1zM522 651h1v2h-1zM204 651h1v2h-1zM251 651h1v2h-1zM387 651h1v2h-1zM432 651h1v2h-1zM161 651h1v2h-1zM341 655h1v1h-1zM295 655h1v1h-1zM479 655h1v1h-1zM522 655h1v1h-1zM204 655h1v1h-1zM251 655h1v1h-1zM387 655h1v1h-1zM432 655h1v1h-1zM161 655h1v1h-1z" fill="#a0a0a0"/>
<path d="M402 64h1v4h-1zM219 64h1v4h-1zM508 64h1v4h-1zM462 64h1v4h-1zM416 64h1v4h-1zM447 64h1v4h-1zM325 64h1v4h-1zM266 64h1v4h-1zM371 64h1v4h-1zM537 64h1v4h-1zM234 64h1v4h-1zM129 64h1v4h-1zM552 64h1v4h-1zM281 64h1v4h-1zM190 64h1v4h-1zM144 64h1v4h-1zM176 64h1v4h-1zM356 64h1v4h-1zM493 64h1v4h-1zM310 64h1v4h-1zM522 64h1v7h-1zM251 64h1v7h-1zM432 64h1v7h-1zM161 64h1v7h-1zM387 64h1v7h-1zM295 64h1v7h-1zM341 64h1v7h-1zM479 64h1v7h-1zM204 64h1v7h-1zM114 130h7v1h-7zM563 130h7v1h-7zM114 196h7v1h-7zM563 196h7v1h-7zM114 261h7v1h-7zM563 261h7v1h-7zM114 327h7v1h-7zM563 327h7v1h-7zM114 393h7v1h-7zM563 393h7v1h-7zM114 459h7v1h-7zM563 459h7v1h-7zM114 524h7v1h-7zM563 524h7v1h-7zM114 590h7v1h-7zM563 590h7v1h-7zM341 650h1v7h-1zM295 650h1v7h-1zM479 650h1v7h-1zM522 650h1v7h-1zM204 650h1v7h-1zM251 650h1v7h-1zM387 650h1v7h-1zM432 650h1v7h-1zM161 650h1v7h-1zM402 653h1v4h-1zM219 653h1v4h-1zM508 653h1v4h-1zM462 653h1v4h-1zM416 653h1v4h-1zM447 653h1v4h-1zM325 653h1v4h-1zM266 653h1v4h-1zM371 653h1v4h-1zM537 653h1v4h-1zM234 653h1v4h-1zM129 653h1v4h-1zM552 653h1v4h-1zM281 653h1v4h-1zM190 653h1v4h-1zM144 653h1v4h-1zM176 653h1v4h-1zM356 653h1v4h-1zM493 653h1v4h-1zM310 653h1v4h-1z" fill="#000"/>
<path d="M420 76h54v8h-54zM558 109h8v1h-8zM557 110h9v2h-9zM556 112h10v2h-10zM555 114h11v3h-11zM554 117h11v2h-11zM554 119h10v2h-10zM554 121h9v1h-9zM553 122h10v2h-10zM553 124h9v4h-9zM552 128h10v1h-10zM552 129h9v3h-9zM551 132h10v3h-10zM551 135h9v4h-9zM551 139h8v2h-8zM550 141h9v7h-9zM550 148h8v1h-8zM549 149h9v4h-9zM548 153h10v3h-10zM548 156h9v1h-9zM547 157h10v3h-10zM546 160h10v2h-10zM545 162h11v2h-11zM545 164h10v3h-10zM544 167h10v2h-10zM544 169h9v4h-9zM543 173h10v1h-10zM543 174h9v5h-9zM542 179h10v1h-10zM542 180h9v6h-9zM542 186h8v3h-8zM541 189h9v7h-9zM541 196h8v1h-8zM540 197h9v2h-9zM539 199h10v5h-10zM538 204h10v2h-10zM538 206h9v2h-9zM537 208h10v2h-10zM536 210h11v1h-11zM536 211h10v3h-10zM535 214h11v1h-11zM535 215h10v2h-10zM535 217h9v1h-9zM534 218h10v3h-10zM534 221h9v1h-9zM533 222h10v3h-10zM533 225h9v4h-9zM532 229h9v7h-9zM531 236h9v4h-9zM530 240h10v3h-10zM530 243h9v4h-9zM529 247h9v7h-9zM528 254h9v4h-9zM527 258h10v3h-10zM527 261h9v2h-9zM526 263h10v2h-10zM526 265h9v2h-9zM525 267h10v3h-10zM524 270h10v4h-10zM524 274h9v1h-9zM523 275h10v2h-10zM523 277h9v4h-9zM522 281h10v1h-10zM522 282h9v3h-9zM521 285h10v3h-10zM521 288h9v3h-9zM520 291h10v1h-10zM520 292h9v3h-9zM519 295h10v3h-10zM519 298h9v1h-9zM518 299h10v3h-10zM518 302h9v1h-9zM517 303h10v3h-10zM517 306h9v1h-9zM516 307h10v2h-10zM515 309h11v1h-11zM515 310h10v3h-10zM514 313h11v1h-11zM514 314h10v2h-10zM514 316h9v1h-9zM513 317h10v3h-10zM512 320h10v4h-10zM512 324h9v1h-9zM511 325h10v2h-10zM511 327h9v2h-9zM510 329h10v2h-10zM509 331h11v1h-11zM509 332h10v3h-10zM508 335h11v1h-11zM508 336h10v2h-10zM508 338h9v3h-9zM507 341h10v1h-10zM507 342h9v3h-9zM506 345h10v2h-10zM505 347h11v1h-11zM505 348h10v2h-10zM504 350h11v2h-11zM504 352h10v2h-10zM503 354h10v2h-10zM502 356h11v1h-11zM502 357h10v4h-10zM502 361h9v2h-9zM501 363h9v7h-9zM500 370h9v4h-9zM499 374h10v3h-10zM499 377h9v3h-9zM498 380h10v1h-10zM498 381h9v3h-9zM497 384h10v2h-10zM496 386h11v1h-11zM496 387h10v3h-10zM495 390h11v1h-11zM495 391h10v1h-10zM494 392h11v1h-11zM494 393h10v1h-10zM493 394h11v3h-11zM492 397h11v2h-11zM492 399h10v2h-10zM492 401h9v1h-9zM491 402h10v2h-10zM491 404h9v2h-9zM490 406h10v3h-10zM490 409h9v3h-9zM489 412h10v1h-10zM489 413h9v4h-9zM488 417h10v2h-10zM488 419h9v2h-9zM487 421h10v3h-10zM487 424h9v2h-9zM486 426h10v2h-10zM486 428h9v3h-9zM485 431h10v2h-10zM484 433h10v3h-10zM483 436h11v2h-11zM483 438h10v2h-10zM482 440h10v2h-10zM481 442h11v1h-11zM481 443h10v4h-10zM480 447h10v2h-10zM480 449h9v4h-9zM479 453h10v1h-10zM479 454h9v3h-9zM478 457h10v3h-10zM478 460h9v4h-9zM478 464h8v1h-8zM477 465h9v6h-9zM476 471h10v1h-10zM476 472h9v1h-9zM475 473h10v2h-10zM474 475h11v3h-11zM473 478h11v2h-11zM472 480h11v2h-11zM472 482h10v1h-10zM471 483h11v2h-11zM471 485h10v2h-10zM470 487h10v3h-10zM470 490h9v1h-9zM469 491h10v3h-10zM469 494h9v2h-9zM468 496h10v2h-10zM468 498h9v2h-9zM467 500h10v2h-10zM466 502h11v1h-11zM466 503h10v3h-10zM465 506h11v1h-11zM465 507h10v1h-10zM464 508h11v1h-11zM464 509h10v1h-10zM463 510h11v2h-11zM462 512h12v1h-12zM462 513h11v1h-11zM461 514h12v1h-12zM461 515h11v1h-11zM460 516h12v1h-12zM460 517h11v2h-11zM459 519h11v2h-11zM459 521h10v1h-10zM458 522h11v1h-11zM458 523h10v1h-10zM457 524h11v2h-11zM457 526h10v1h-10zM456 527h11v2h-11zM455 529h11v2h-11zM454 531h11v2h-11zM453 533h12v1h-12zM452 534h12v1h-12zM451 535h13v1h-13zM451 536h12v1h-12zM450 537h13v1h-13zM450 538h12v1h-12zM449 539h13v1h-13zM448 540h13v1h-13zM448 541h12v1h-12zM447 542h12v1h-12zM446 543h13v1h-13zM445 544h13v1h-13zM444 545h14v1h-14zM442 546h15v1h-15zM441 547h15v1h-15zM439 548h17v1h-17zM438 549h17v1h-17zM438 550h16v1h-16zM436 551h17v1h-17zM435 552h17v1h-17zM433 553h18v1h-18zM430 554h19v1h-19zM429 555h19v1h-19zM427 556h19v1h-19zM426 557h20v1h-20zM423 558h22v1h-22zM420 559h23v1h-23zM418 560h24v1h-24zM415 561h25v1h-25zM414 562h23v1h-23zM411 563h25v1h-25zM408 564h26v1h-26zM405 565h28v1h-28zM402 566h28v1h-28zM397 567h30v1h-30zM395 568h30v1h-30zM390 569h32v1h-32zM386 570h35v1h-35zM383 571h35v1h-35zM380 572h35v1h-35zM377 573h35v1h-35zM374 574h35v1h-35zM369 575h35v1h-35zM366 576h36v1h-36zM363 577h34v1h-34zM360 578h33v1h-33zM356 579h34v1h-34zM353 580h34v1h-34zM350 581h34v1h-34zM344 582h37v1h-37zM337 583h39v1h-39zM331 584h42v1h-42zM322 585h48v1h-48zM313 586h54v1h-54zM298 587h65v1h-65zM287 588h73v1h-73zM280 589h77v1h-77zM273 590h78v1h-78zM262 591h82v1h-82zM244 592h94v1h-94zM234 593h95v1h-95zM226 594h94v1h-94zM219 595h86v1h-86zM215 596h79v1h-79zM209 597h78v1h-78zM206 598h74v1h-74zM201 599h68v1h-68zM197 600h54v1h-54zM192 601h49v1h-49zM189 602h44v1h-44zM188 603h38v1h-38zM186 604h36v1h-36zM183 605h33v1h-33zM182 606h31v1h-31zM179 607h29v1h-29zM177 608h27v1h-27zM176 609h23v1h-23zM174 610h22v1h-22zM173 611h22v1h-22zM171 612h22v1h-22zM170 613h20v1h-20zM169 614h20v1h-20zM168 615h18v1h-18zM167 616h17v1h-17zM166 617h17v1h-17zM166 618h15v1h-15zM164 619h16v1h-16zM163 620h15v1h-15zM162 621h15v1h-15zM161 622h15v1h-15zM160 623h15v1h-15zM159 624h15v1h-15zM158 625h16v1h-16zM158 626h15v1h-15zM157 627h14v1h-14zM157 628h13v1h-13zM156 629h13v1h-13zM155 630h13v1h-13zM154 631h13v1h-13zM154 632h12v1h-12zM156 633h10v1h-10zM156 634h9v2h-9zM152 635h2v1h-2zM156 636h8v1h-8zM156 637h7v1h-7zM150 638h3v1h-3zM156 638h6v2h-6zM156 640h5v1h-5zM155 641h4v1h-4zM150 641h1v1h-1zM155 642h3v1h-3zM155 643h2v1h-2zM153 644h3v2h-3zM153 646h2v1h-2zM152 647h2v1h-2zM138 647h1v1h-1zM152 648h1v1h-1zM150 650h1v1h-1zM149 651h1v1h-1z" fill="#9400d3"/>
<path d="M443 95h2v1h-2zM449 95h2v1h-2zM443 96h3v1h-3zM448 96h3v1h-3zM444 97h6v1h-6zM445 98h4v2h-4zM444 100h6v1h-6zM443 101h3v1h-3zM448 101h3v1h-3zM443 102h2v1h-2zM449 102h2v1h-2zM126 651h4v1h-4zM123 652h6v2h-6zM124 654h6v1h-6zM125 655h4v2h-4zM144 656h1v1h-1zM143 657h3v1h-3zM124 657h6v1h-6zM123 658h6v1h-6zM141 658h5v1h-5zM134 659h1v1h-1zM131 659h1v1h-1zM123 659h3v1h-3zM137 659h4v1h-4z" fill="#009e73"/>
<path d="M443 114h2v1h-2zM449 114h2v1h-2zM446 114h2v1h-2zM443 115h8v1h-8zM444 116h6v1h-6zM443 117h8v2h-8zM444 119h6v1h-6zM443 120h8v1h-8zM443 121h2v1h-2zM449 121h2v1h-2zM446 121h2v1h-2zM150 628h2v1h-2zM147 628h2v1h-2zM144 628h2v1h-2zM144 629h8v1h-8zM145 630h6v1h-6zM144 631h8v2h-8zM145 633h3v1h-3zM142 634h6v2h-6zM150 635h2v1h-2zM143 636h4v1h-4zM142 637h5v2h-5zM141 639h4v2h-4zM142 641h3v1h-3zM149 641h1v1h-1zM139 642h5v1h-5zM139 643h3v1h-3zM140 644h2v1h-2zM138 645h3v2h-3zM136 647h2v1h-2zM135 648h3v1h-3zM133 649h3v1h-3zM132 650h3v1h-3zM130 651h3v1h-3zM129 652h4v2h-4zM130 654h3v1h-3zM129 655h4v2h-4zM130 657h3v1h-3zM129 658h4v1h-4zM132 659h2v1h-2zM129 659h2v1h-2zM135 659h2v1h-2z" fill="#56b4e9"/>
<path d="M443 133h8v2h-8zM443 135h2v4h-2zM449 135h2v4h-2zM443 139h8v2h-8zM148 633h8v2h-8zM154 635h2v1h-2zM148 635h2v1h-2zM147 636h9v2h-9zM147 638h3v1h-3zM153 638h3v1h-3zM145 639h11v2h-11zM145 641h4v1h-4zM151 641h4v1h-4zM144 642h11v1h-11zM142 643h13v1h-13zM142 644h11v1h-11zM141 645h12v2h-12zM139 647h13v1h-13zM138 648h14v1h-14zM136 649h16v1h-16zM135 650h15v1h-15zM133 651h16v2h-16zM133 653h14v2h-14zM133 655h13v1h-13zM133 656h11v1h-11zM133 657h10v1h-10zM133 658h8v1h-8z" fill="#e69f00"/>
<path d="M114 64h456v1h-456zM114 65h1v591h-1zM569 65h1v591h-1zM114 656h456v1h-456z" fill="#000"/>
<g font-family="'Liberation Sans', Arial, sans-serif" font-size="16" fill="#000" text-rendering="geometricPrecision">
<text transform="translate(90.8,69) scale(1,1.07)" text-anchor="end">1.8x10</text>
<text transform="translate(95.3,63) scale(1,1.07)" text-anchor="start" font-size="13">6</text>
<text transform="translate(90.8,135) scale(1,1.07)" text-anchor="end">1.6x10</text>
<text transform="translate(95.3,129) scale(1,1.07)" text-anchor="start" font-size="13">6</text>
<text transform="translate(90.8,201) scale(1,1.07)" text-anchor="end">1.4x10</text>
<text transform="translate(95.3,195) scale(1,1.07)" text-anchor="start" font-size="13">6</text>
<text transform="translate(90.8,266) scale(1,1.07)" text-anchor="end">1.2x10</text>
<text transform="translate(95.3,260) scale(1,1.07)" text-anchor="start" font-size="13">6</text>
<text transform="translate(90.8,332) scale(1,1.07)" text-anchor="end" textLength="33.5" lengthAdjust="spacing">1x10</text>
<text transform="translate(95.3,326) scale(1,1.07)" text-anchor="start" font-size="13">6</text>
<text transform="translate(101,398) scale(1,1.07)" text-anchor="end">800000</text>
<text transform="translate(101,464) scale(1,1.07)" text-anchor="end">600000</text>
<text transform="translate(101,529) scale(1,1.07)" text-anchor="end">400000</text>
<text transform="translate(101,595) scale(1,1.07)" text-anchor="end">200000</text>
<text transform="translate(101,661) scale(1,1.07)" text-anchor="end">0</text>
<text transform="translate(113,680) scale(1,1.07)" text-anchor="middle">Sun</text>
<text transform="translate(111.9,699) scale(1,1.07)" text-anchor="middle">01</text>
<text transform="translate(111.9,718) scale(1,1.07)" text-anchor="middle">03</text>
<text transform="translate(160,680) scale(1,1.07)" text-anchor="middle">Wed</text>
<text transform="translate(158.9,699) scale(1,1.07)" text-anchor="middle">01</text>
<text transform="translate(158.9,718) scale(1,1.07)" text-anchor="middle">04</text>
<text transform="translate(203,680) scale(1,1.07)" text-anchor="middle">Fri</text>
<text transform="translate(201.9,699) scale(1,1.07)" text-anchor="middle">01</text>
<text transform="translate(201.9,718) scale(1,1.07)" text-anchor="middle">05</text>
<text transform="translate(250,680) scale(1,1.07)" text-anchor="middle">Mon</text>
<text transform="translate(248.9,699) scale(1,1.07)" text-anchor="middle">01</text>
<text transform="translate(248.9,718) scale(1,1.07)" text-anchor="middle">06</text>
<text transform="translate(294,680) scale(1,1.07)" text-anchor="middle">Wed</text>
<text transform="translate(292.9,699) scale(1,1.07)" text-anchor="middle">01</text>
<text transform="translate(292.9,718) scale(1,1.07)" text-anchor="middle">07</text>
<text transform="translate(340,680) scale(1,1.07)" text-anchor="middle">Sat</text>
<text transform="translate(338.9,699) scale(1,1.07)" text-anchor="middle">01</text>
<text transform="translate(338.9,718) scale(1,1.07)" text-anchor="middle">08</text>
<text transform="translate(386,680) scale(1,1.07)" text-anchor="middle">Tue</text>
<text transform="translate(384.9,699) scale(1,1.07)" text-anchor="middle">01</text>
<text transform="translate(384.9,718) scale(1,1.07)" text-anchor="middle">09</text>
<text transform="translate(430.4,680) scale(1,1.07)" text-anchor="middle">Thu</text>
<text transform="translate(429.9,699) scale(1,1.07)" text-anchor="middle">01</text>
<text transform="translate(429.9,718) scale(1,1.07)" text-anchor="middle">10</text>
<text transform="translate(478,680) scale(1,1.07)" text-anchor="middle">Sun</text>
<text transform="translate(476.9,699) scale(1,1.07)" text-anchor="middle">01</text>
<text transform="translate(476.9,718) scale(1,1.07)" text-anchor="middle">11</text>
<text transform="translate(521,680) scale(1,1.07)" text-anchor="middle">Tue</text>
<text transform="translate(519.9,699) scale(1,1.07)" text-anchor="middle">01</text>
<text transform="translate(519.9,718) scale(1,1.07)" text-anchor="middle">12</text>
<text transform="translate(568,680) scale(1,1.07)" text-anchor="middle">Fri</text>
<text transform="translate(566.9,699) scale(1,1.07)" text-anchor="middle">01</text>
<text transform="translate(566.9,718) scale(1,1.07)" text-anchor="middle">01</text>
<text transform="translate(339,746) scale(1,1.07)" text-anchor="middle">Datum / Tage in 2020</text>
<text transform="translate(28.6,361) rotate(-90) scale(1,1.07)" text-anchor="middle" textLength="357" lengthAdjust="spacing">Infektionen in Deutschland, summiert über Länder</text>
<text transform="translate(411,85) scale(1,1.07)" text-anchor="end">Meldungen</text>
<text transform="translate(411,104) scale(1,1.07)" text-anchor="end">10 Tage Prognose ab 10 März</text>
<text transform="translate(411,123) scale(1,1.07)" text-anchor="end">10 Tage Prognose ab 14. März</text>
<text transform="translate(411,142) scale(1,1.07)" text-anchor="end">10 Tage Prognose ab 17. März</text>
</g>
</svg></body></html>
